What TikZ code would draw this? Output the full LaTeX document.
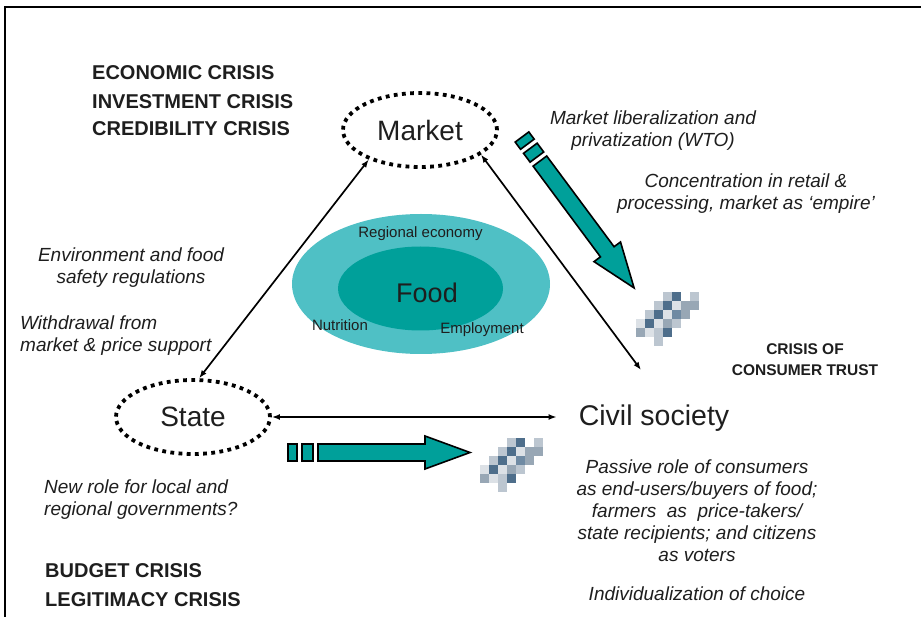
\documentclass[tikz,border=0pt]{standalone}
\usepackage{fontspec}
\setmainfont{Liberation Sans}
\usetikzlibrary{arrows.meta,shapes.geometric}

\definecolor{tealfill}{HTML}{00A09A}
\definecolor{tealouter}{HTML}{4FC0C5}
\definecolor{ink}{HTML}{1E1E1E}
\definecolor{pxd}{HTML}{4E6E8B}
\definecolor{pxm}{HTML}{6F8AA3}
\definecolor{pxg}{HTML}{98A7B5}
\definecolor{pxl}{HTML}{BCC6D0}
\definecolor{pxv}{HTML}{DCE1E6}

% block arrow made of two small tabs, a shaft and a head, drawn along +x
\newcommand\tealarrow[3]{%
  \begin{scope}[shift={#1},rotate=#2]
    \draw[bigarrow] (0,-8.5) rectangle (9,8.5);
    \draw[bigarrow] (14,-8.5) rectangle (25,8.5);
    \draw[bigarrow] (30,-8.5) -- (#3-45,-8.5) -- (#3-45,-16.5) -- (#3,0)
      -- (#3-45,16.5) -- (#3-45,8.5) -- (30,8.5) -- cycle;
  \end{scope}}

% small pixelated blot, #1 = top-left corner
\newcommand\pixblot[1]{%
  \begin{scope}[shift={#1}]
    \foreach \c/\r/\col in {3/0/pxl,4/0/pxd,6/0/pxl,
        2/1/pxl,3/1/pxd,4/1/pxv,5/1/pxg,6/1/pxg,
        1/2/pxl,2/2/pxd,3/2/pxv,4/2/pxm,5/2/pxg,
        0/3/pxv,1/3/pxd,2/3/pxv,3/3/pxg,4/3/pxl,
        0/4/pxg,1/4/pxv,2/4/pxl,3/4/pxd,
        2/5/pxl}
      \fill[\col] (\c*9,-\r*9) rectangle ++(9,-9);
  \end{scope}}

\begin{document}
\begin{tikzpicture}[x=1pt,y=1pt,
  every node/.style={text=ink},
  crisis/.style={font=\fontsize{20}{24}\selectfont\bfseries,anchor=base west,inner sep=0pt},
  note/.style={font=\fontsize{19}{22}\selectfont\itshape,align=center,inner sep=0pt},
  actor/.style={ellipse,draw=black,line width=3.8pt,dash pattern=on 3.8pt off 4.4pt,
    minimum width=154pt,minimum height=74pt,font=\fontsize{28}{32}\selectfont},
  link/.style={line width=1.7pt,{Latex[length=8pt,width=6pt]}-{Latex[length=8pt,width=6pt]}},
  bigarrow/.style={fill=tealfill,draw=black,line width=1.6pt,line join=miter},
  sphere/.style={ellipse,inner sep=0pt},
  small/.style={font=\fontsize{15}{18}\selectfont,inner sep=0pt}]

\useasboundingbox (0,0) rectangle (921,-617);
\fill[white] (0,0) rectangle (921,-617);

% frame
\draw[line width=1.8pt] (921,-7) -- (5,-7) -- (5,-617);

% crises
\node[crisis] (econ) at (92,-80) {ECONOMIC CRISIS};
\node[crisis] (invest) at (92,-109) {INVESTMENT CRISIS};
\node[crisis] (cred) at (92,-136) {CREDIBILITY CRISIS};
\node[crisis] (budget) at (45,-577) {BUDGET CRISIS};
\node[crisis] (legit) at (45,-606) {LEGITIMACY CRISIS};
\node[font=\fontsize{15.5}{21}\selectfont\bfseries,align=center,inner sep=0pt] (trust)
  at (805,-360) {CRISIS OF\\CONSUMER TRUST};

% food spheres
\node[sphere,fill=tealouter,minimum width=258pt,minimum height=140pt] (region) at (421,-284) {};
\node[sphere,fill=tealfill,minimum width=165pt,minimum height=84pt] (food) at (420.5,-288.5) {};
\node[font=\fontsize{27}{30}\selectfont,inner sep=0pt] (foodlbl) at (427,-293) {Food};
\node[small] (regeco) at (420.5,-234) {Regional economy};
\node[small] (nutri) at (340,-325) {Nutrition};
\node[small] (employ) at (482,-330) {Employment};

% actors
\node[actor] (market) at (420,-130) {Market};
\node[actor] (state) at (193,-417) {State};
\node[font=\fontsize{28.5}{32}\selectfont,inner xsep=22pt,inner ysep=2pt] (civil)
  at (654,-418) {Civil society};
\coordinate (civtop) at (641,-370);

% relations
\draw[link] (market.210) -- (state.81);
\draw[link] (market.-22) -- (civtop);
\draw[link] (state.east) -- (state.east -| civil.west);

% block arrows and blots
\tealarrow{(522,-137)}{-53.4}{188}
\tealarrow{(288,-452.5)}{0}{182}
\pixblot{(636,-292)}
\pixblot{(480,-438)}

% notes
\node[note] (lib) at (653,-131) {Market liberalization and\\privatization (WTO)};
\node[note] (conc) at (746,-194) {Concentration in retail \&\\processing, market as ‘empire’};
\node[note] (env) at (131,-268) {Environment and food\\safety regulations};
\node[note,align=left,anchor=west] (withdraw) at (20,-336) {Withdrawal from\\market \& price support};
\node[note,align=left,anchor=west] (newrole) at (44,-500) {New role for local and\\regional governments?};
\node[note] (passive) at (697,-511) {Passive role of consumers\\as end-users/buyers of food;\\farmers\ \ as\ \ price-takers/\\state recipients; and citizens\\as voters};
\node[note] (indiv) at (697,-594) {Individualization of choice};

\end{tikzpicture}
\end{document}
